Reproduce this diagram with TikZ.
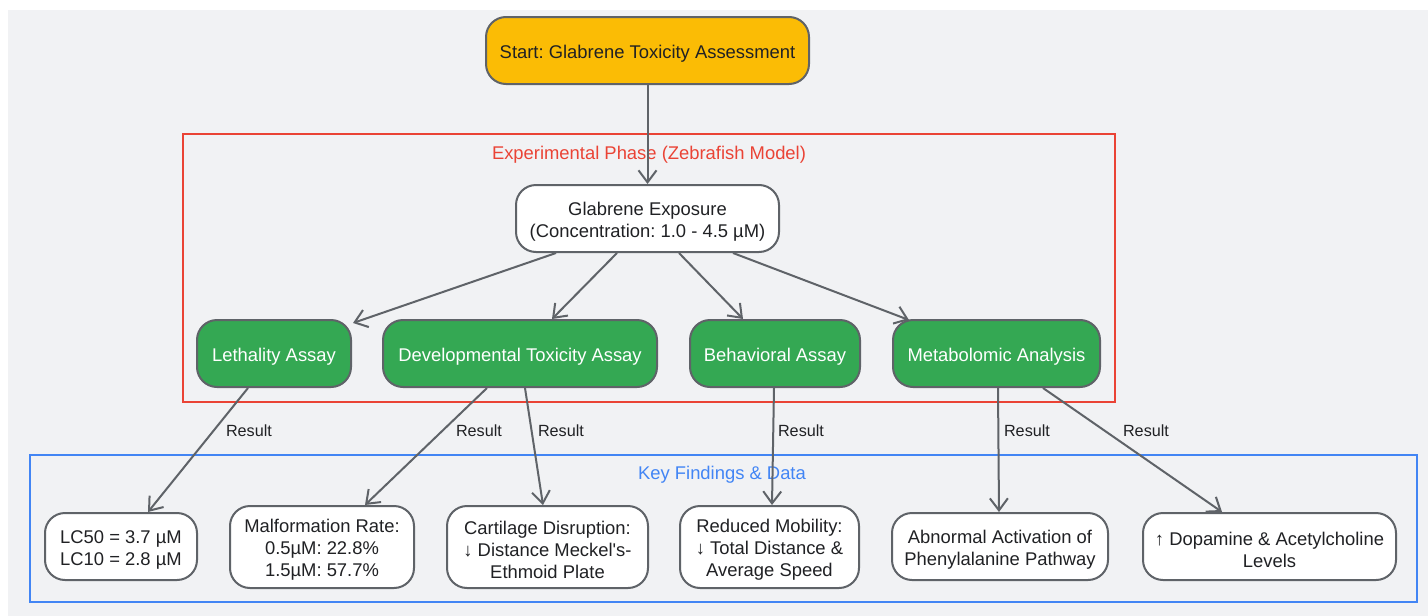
\documentclass[tikz,border=0pt]{standalone}
\usepackage{fontspec}
\setmainfont{Liberation Sans}
\usetikzlibrary{calc,arrows.meta}
\definecolor{bggray}{HTML}{F1F2F4}
\definecolor{edgegray}{HTML}{5F6368}
\definecolor{gyellow}{HTML}{FBBC05}
\definecolor{ggreen}{HTML}{34A853}
\definecolor{gred}{HTML}{EA4335}
\definecolor{gblue}{HTML}{4285F4}
\definecolor{txt}{HTML}{202124}
\tikzset{
  box/.style={draw=edgegray, line width=2pt, rounded corners=20pt, inner sep=0pt},
  whitebox/.style={box, fill=white},
  greenbox/.style={box, fill=ggreen, minimum height=67pt},
  intxt/.style={align=center, font=\fontsize{18.4}{22}\selectfont\frenchspacing, inner sep=0pt, text=txt},
  whitetxt/.style={intxt, text=white},
  arr/.style={draw=edgegray, line width=2pt, -{Straight Barb[length=12pt,width=18pt,line width=2pt]}},
  lbl/.style={font=\fontsize{16.2}{19}\selectfont, text=txt, inner sep=0pt},
  frametitle/.style={font=\fontsize{18.4}{22}\selectfont, inner sep=0pt},
}
\begin{document}
\begin{tikzpicture}[x=1pt,y=-1pt]
\useasboundingbox (0,0) rectangle (1428,616);
\fill[white] (0,0) rectangle (1428,616);
\fill[bggray] (8,10) rectangle (1428,616);

% frames
\draw[gred, line width=2pt] (183,134) rectangle (1115,402);
\node[frametitle, text=gred] (t1) at (649,155) {Experimental Phase (Zebrafish Model)};
\draw[gblue, line width=2pt] (30,455) rectangle (1417,602);
\node[frametitle, text=gblue] (t2) at (722,475) {Key Findings \& Data};

% node shapes
\node[box, fill=gyellow, minimum width=323pt, minimum height=67pt] (start) at (647.5,50.5) {};
\node[whitebox, minimum width=263pt, minimum height=67pt] (exp) at (647.5,218.5) {};
\node[greenbox, minimum width=154pt] (leth) at (274,353.5) {};
\node[greenbox, minimum width=274pt] (dev) at (520,353.5) {};
\node[greenbox, minimum width=170pt] (beh) at (775,353.5) {};
\node[greenbox, minimum width=207pt] (met) at (996.5,353.5) {};
\node[whitebox, minimum width=152pt, minimum height=67pt] (lc) at (121,546.5) {};
\node[whitebox, minimum width=184pt, minimum height=82pt] (mal) at (322,547) {};
\node[whitebox, minimum width=201pt, minimum height=82pt] (cart) at (547.5,547) {};
\node[whitebox, minimum width=179pt, minimum height=82pt] (mob) at (769.5,547) {};
\node[whitebox, minimum width=216pt, minimum height=67pt] (abn) at (1000,546.5) {};
\node[whitebox, minimum width=253pt, minimum height=67pt] (dop) at (1269.5,546.5) {};

% node texts
\node[intxt] (startT) at ($(start.center)+(0,3)$) {Start: Glabrene Toxicity Assessment};
\node[intxt] (expT) at ($(exp.center)+(0,3)$) {Glabrene Exposure\\(Concentration: 1.0 - 4.5 µM)};
\node[whitetxt] (lethT) at ($(leth.center)+(0,3)$) {Lethality Assay};
\node[whitetxt] (devT) at ($(dev.center)+(0,3)$) {Developmental Toxicity Assay};
\node[whitetxt] (behT) at ($(beh.center)+(0,3)$) {Behavioral Assay};
\node[whitetxt] (metT) at ($(met.center)+(0,3)$) {Metabolomic Analysis};
\node[intxt] (lcT) at ($(lc.center)+(0,3)$) {LC50 = 3.7 µM\\LC10 = 2.8 µM};
\node[intxt] (malT) at ($(mal.center)+(0,3)$) {Malformation Rate:\\0.5µM: 22.8\%\\1.5µM: 57.7\%};
\node[intxt] (cartT) at ($(cart.center)+(0,3)$) {Cartilage Disruption:\\↓ Distance Meckel\textquotesingle s-\\Ethmoid Plate};
\node[intxt] (mobT) at ($(mob.center)+(0,3)$) {Reduced Mobility:\\↓ Total Distance \&\\Average Speed};
\node[intxt] (abnT) at ($(abn.center)+(0,3)$) {Abnormal Activation of\\Phenylalanine Pathway};
\node[intxt] (dopT) at ($(dop.center)+(0,3)$) {↑ Dopamine \& Acetylcholine\\Levels};

% edges
\draw[arr] (start.south) -- (exp.north);
\draw[arr] ($(exp.south)+(-91.5,0)$) -- ($(leth.north east)+(1,4)$);
\draw[arr] ($(exp.south)+(-30.5,0)$) -- ($(dev.north)+(32,0)$);
\draw[arr] ($(exp.south)+(31.5,0)$) -- ($(beh.north)+(-32,0)$);
\draw[arr] ($(exp.south)+(85.5,0)$) -- ($(met.north west)+(17,1)$);

\draw[arr] ($(leth.south)+(-26,0)$) -- ($(lc.north)+(27,0)$);
\draw[arr] ($(dev.south)+(-33,0)$) -- ($(mal.north)+(43,0)$);
\draw[arr] ($(dev.south)+(5,0)$) -- ($(cart.north)+(-4.5,0)$);
\draw[arr] ($(beh.south)+(-1,0)$) -- ($(mob.north)+(2.5,0)$);
\draw[arr] ($(met.south)+(1.5,0)$) -- ($(abn.north)+(-1,0)$);
\draw[arr] ($(met.south)+(46.5,0)$) -- ($(dop.north)+(-47.5,0)$);

% labels
\node[lbl] (l1) at (249,431) {Result};
\node[lbl] (l2) at (479,431) {Result};
\node[lbl] (l3) at (561,431) {Result};
\node[lbl] (l4) at (801,431) {Result};
\node[lbl] (l5) at (1027,431) {Result};
\node[lbl] (l6) at (1146,431) {Result};
\end{tikzpicture}
\end{document}
